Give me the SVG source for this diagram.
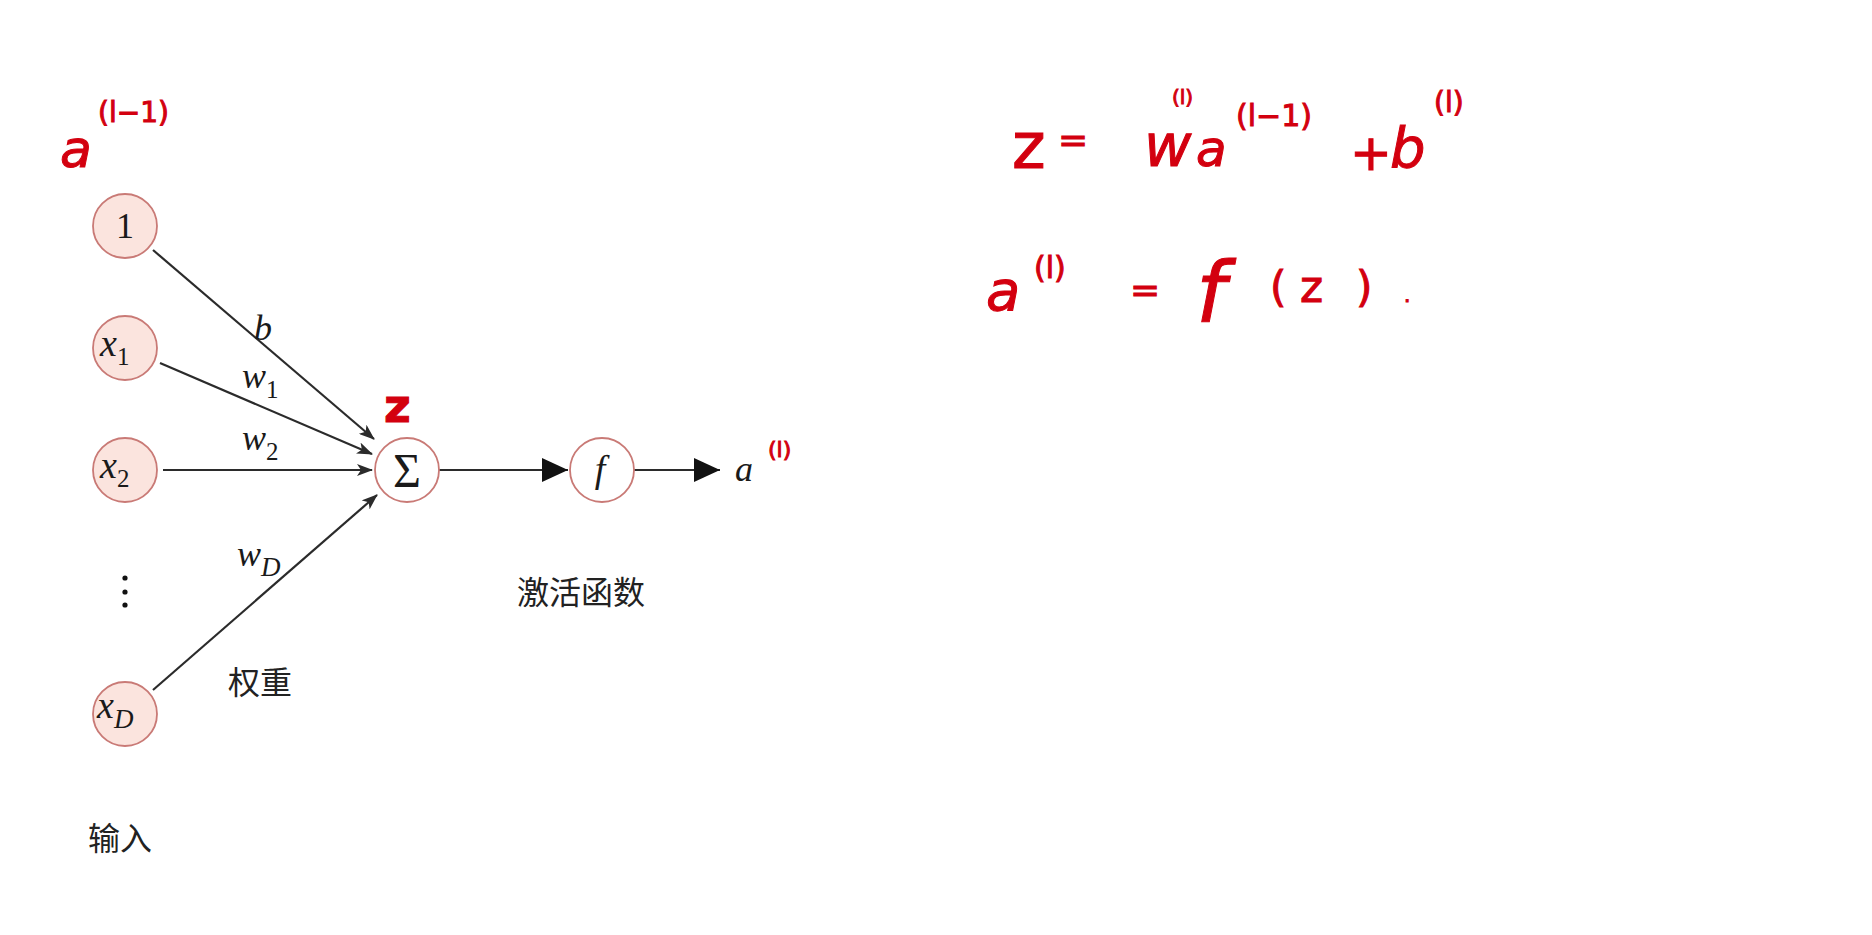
<svg xmlns="http://www.w3.org/2000/svg" width="1872" height="935" viewBox="0 0 1872 935">
<style>
.node{fill:#fbe4de;stroke:#c97a76;stroke-width:1.8}
.op{fill:#ffffff;stroke:#c97a76;stroke-width:1.8}
.edge{stroke:#2b2b2b;stroke-width:2.2;fill:none}
.m{font-family:"Liberation Serif","DejaVu Serif",serif;font-style:italic;fill:#1a1a1a}
.up{font-family:"Liberation Serif","DejaVu Serif",serif;fill:#1a1a1a}
.cn{font-family:"Noto Sans CJK SC","Liberation Sans",sans-serif;fill:#222;font-size:32px}
.hw{font-family:"DejaVu Sans","Liberation Sans",sans-serif;fill:#d3000f;stroke:#d3000f;stroke-width:1}
</style>
<defs>
<marker id="sm" viewBox="0 0 16 12" refX="15" refY="6" markerWidth="16" markerHeight="12" markerUnits="userSpaceOnUse" orient="auto">
<path d="M0,0 L16,6 L0,12 L4,6 Z" fill="#2b2b2b"/>
</marker>
<marker id="big" viewBox="0 0 26 24" refX="26" refY="12" markerWidth="26" markerHeight="24" markerUnits="userSpaceOnUse" orient="auto">
<path d="M0,0 L26,12 L0,24 Z" fill="#111"/>
</marker>
</defs>

<g id="connectors">
<line class="edge" x1="153" y1="250" x2="374" y2="439" marker-end="url(#sm)"/>
<line class="edge" x1="160" y1="363" x2="372" y2="454" marker-end="url(#sm)"/>
<line class="edge" x1="163" y1="470" x2="372" y2="470" marker-end="url(#sm)"/>
<line class="edge" x1="153" y1="690" x2="377" y2="495" marker-end="url(#sm)"/>
<line class="edge" x1="439" y1="470" x2="568" y2="470" marker-end="url(#big)"/>
<line class="edge" x1="634" y1="470" x2="720" y2="470" marker-end="url(#big)"/>
<text class="m" x="254" y="340" font-size="36">b</text>
<text class="m" x="242" y="388" font-size="36">w<tspan font-size="25" dy="10" font-style="normal">1</tspan></text>
<text class="m" x="242" y="450" font-size="36">w<tspan font-size="25" dy="10" font-style="normal">2</tspan></text>
<text class="m" x="237" y="566" font-size="36">w<tspan font-size="27" dy="10">D</tspan></text>
</g>

<g id="node-1">
<circle class="node" cx="125" cy="226" r="32"/>
<text class="up" x="125" y="238" font-size="36" text-anchor="middle">1</text>
</g>
<g id="node-x1">
<circle class="node" cx="125" cy="348" r="32"/>
<text class="m" x="100" y="356" font-size="38">x<tspan font-size="25" dy="9" font-style="normal">1</tspan></text>
</g>
<g id="node-x2">
<circle class="node" cx="125" cy="470" r="32"/>
<text class="m" x="100" y="478" font-size="38">x<tspan font-size="25" dy="9" font-style="normal">2</tspan></text>
</g>
<g id="dots">
<circle cx="125" cy="578" r="2.6" fill="#111"/>
<circle cx="125" cy="592" r="2.6" fill="#111"/>
<circle cx="125" cy="605" r="2.6" fill="#111"/>
</g>
<g id="node-xD">
<circle class="node" cx="125" cy="714" r="32"/>
<text class="m" x="97" y="718" font-size="38">x<tspan font-size="27" dy="10">D</tspan></text>
</g>
<g id="node-sum">
<circle class="op" cx="407" cy="470" r="32"/>
<text class="up" x="407" y="487" font-size="48" text-anchor="middle">Σ</text>
</g>
<g id="node-f">
<circle class="op" cx="602" cy="470" r="32"/>
<text class="m" x="600" y="482" font-size="38" text-anchor="middle">f</text>
</g>
<g id="output">
<text class="m" x="735" y="481" font-size="36">a</text>
<text class="hw" x="768" y="457" font-size="22">(l)</text>
</g>

<g id="labels">
<text class="cn" x="517" y="604">激活函数</text>
<text class="cn" x="228" y="694">权重</text>
<text class="cn" x="88" y="850">输入</text>
</g>

<g id="annotations">
<text class="hw" x="60" y="167" font-size="52" font-style="italic">a</text>
<text class="hw" x="98" y="122" font-size="28">(l−1)</text>
<text class="hw" x="384" y="422" font-size="46" font-weight="bold">z</text>
<text class="hw" x="1012" y="168" font-size="64">z</text>
<text class="hw" x="1058" y="152" font-size="36">=</text>
<text class="hw" x="1144" y="166" font-size="58" font-style="italic">w</text>
<text class="hw" x="1172" y="104" font-size="20">(l)</text>
<text class="hw" x="1196" y="166" font-size="50" font-style="italic">a</text>
<text class="hw" x="1236" y="126" font-size="30">(l−1)</text>
<text class="hw" x="1350" y="170" font-size="50">+</text>
<text class="hw" x="1390" y="167" font-size="56" font-style="italic">b</text>
<text class="hw" x="1434" y="112" font-size="28">(l)</text>
<text class="hw" x="986" y="310" font-size="56" font-style="italic">a</text>
<text class="hw" x="1034" y="278" font-size="30">(l)</text>
<text class="hw" x="1130" y="302" font-size="36">=</text>
<text class="hw" x="1196" y="322" font-size="84" font-style="italic">f</text>
<text class="hw" x="1270" y="302" font-size="42">(</text>
<text class="hw" x="1300" y="302" font-size="44">z</text>
<text class="hw" x="1356" y="302" font-size="42">)</text>
<text class="hw" x="1404" y="302" font-size="20">.</text>
</g>
</svg>
